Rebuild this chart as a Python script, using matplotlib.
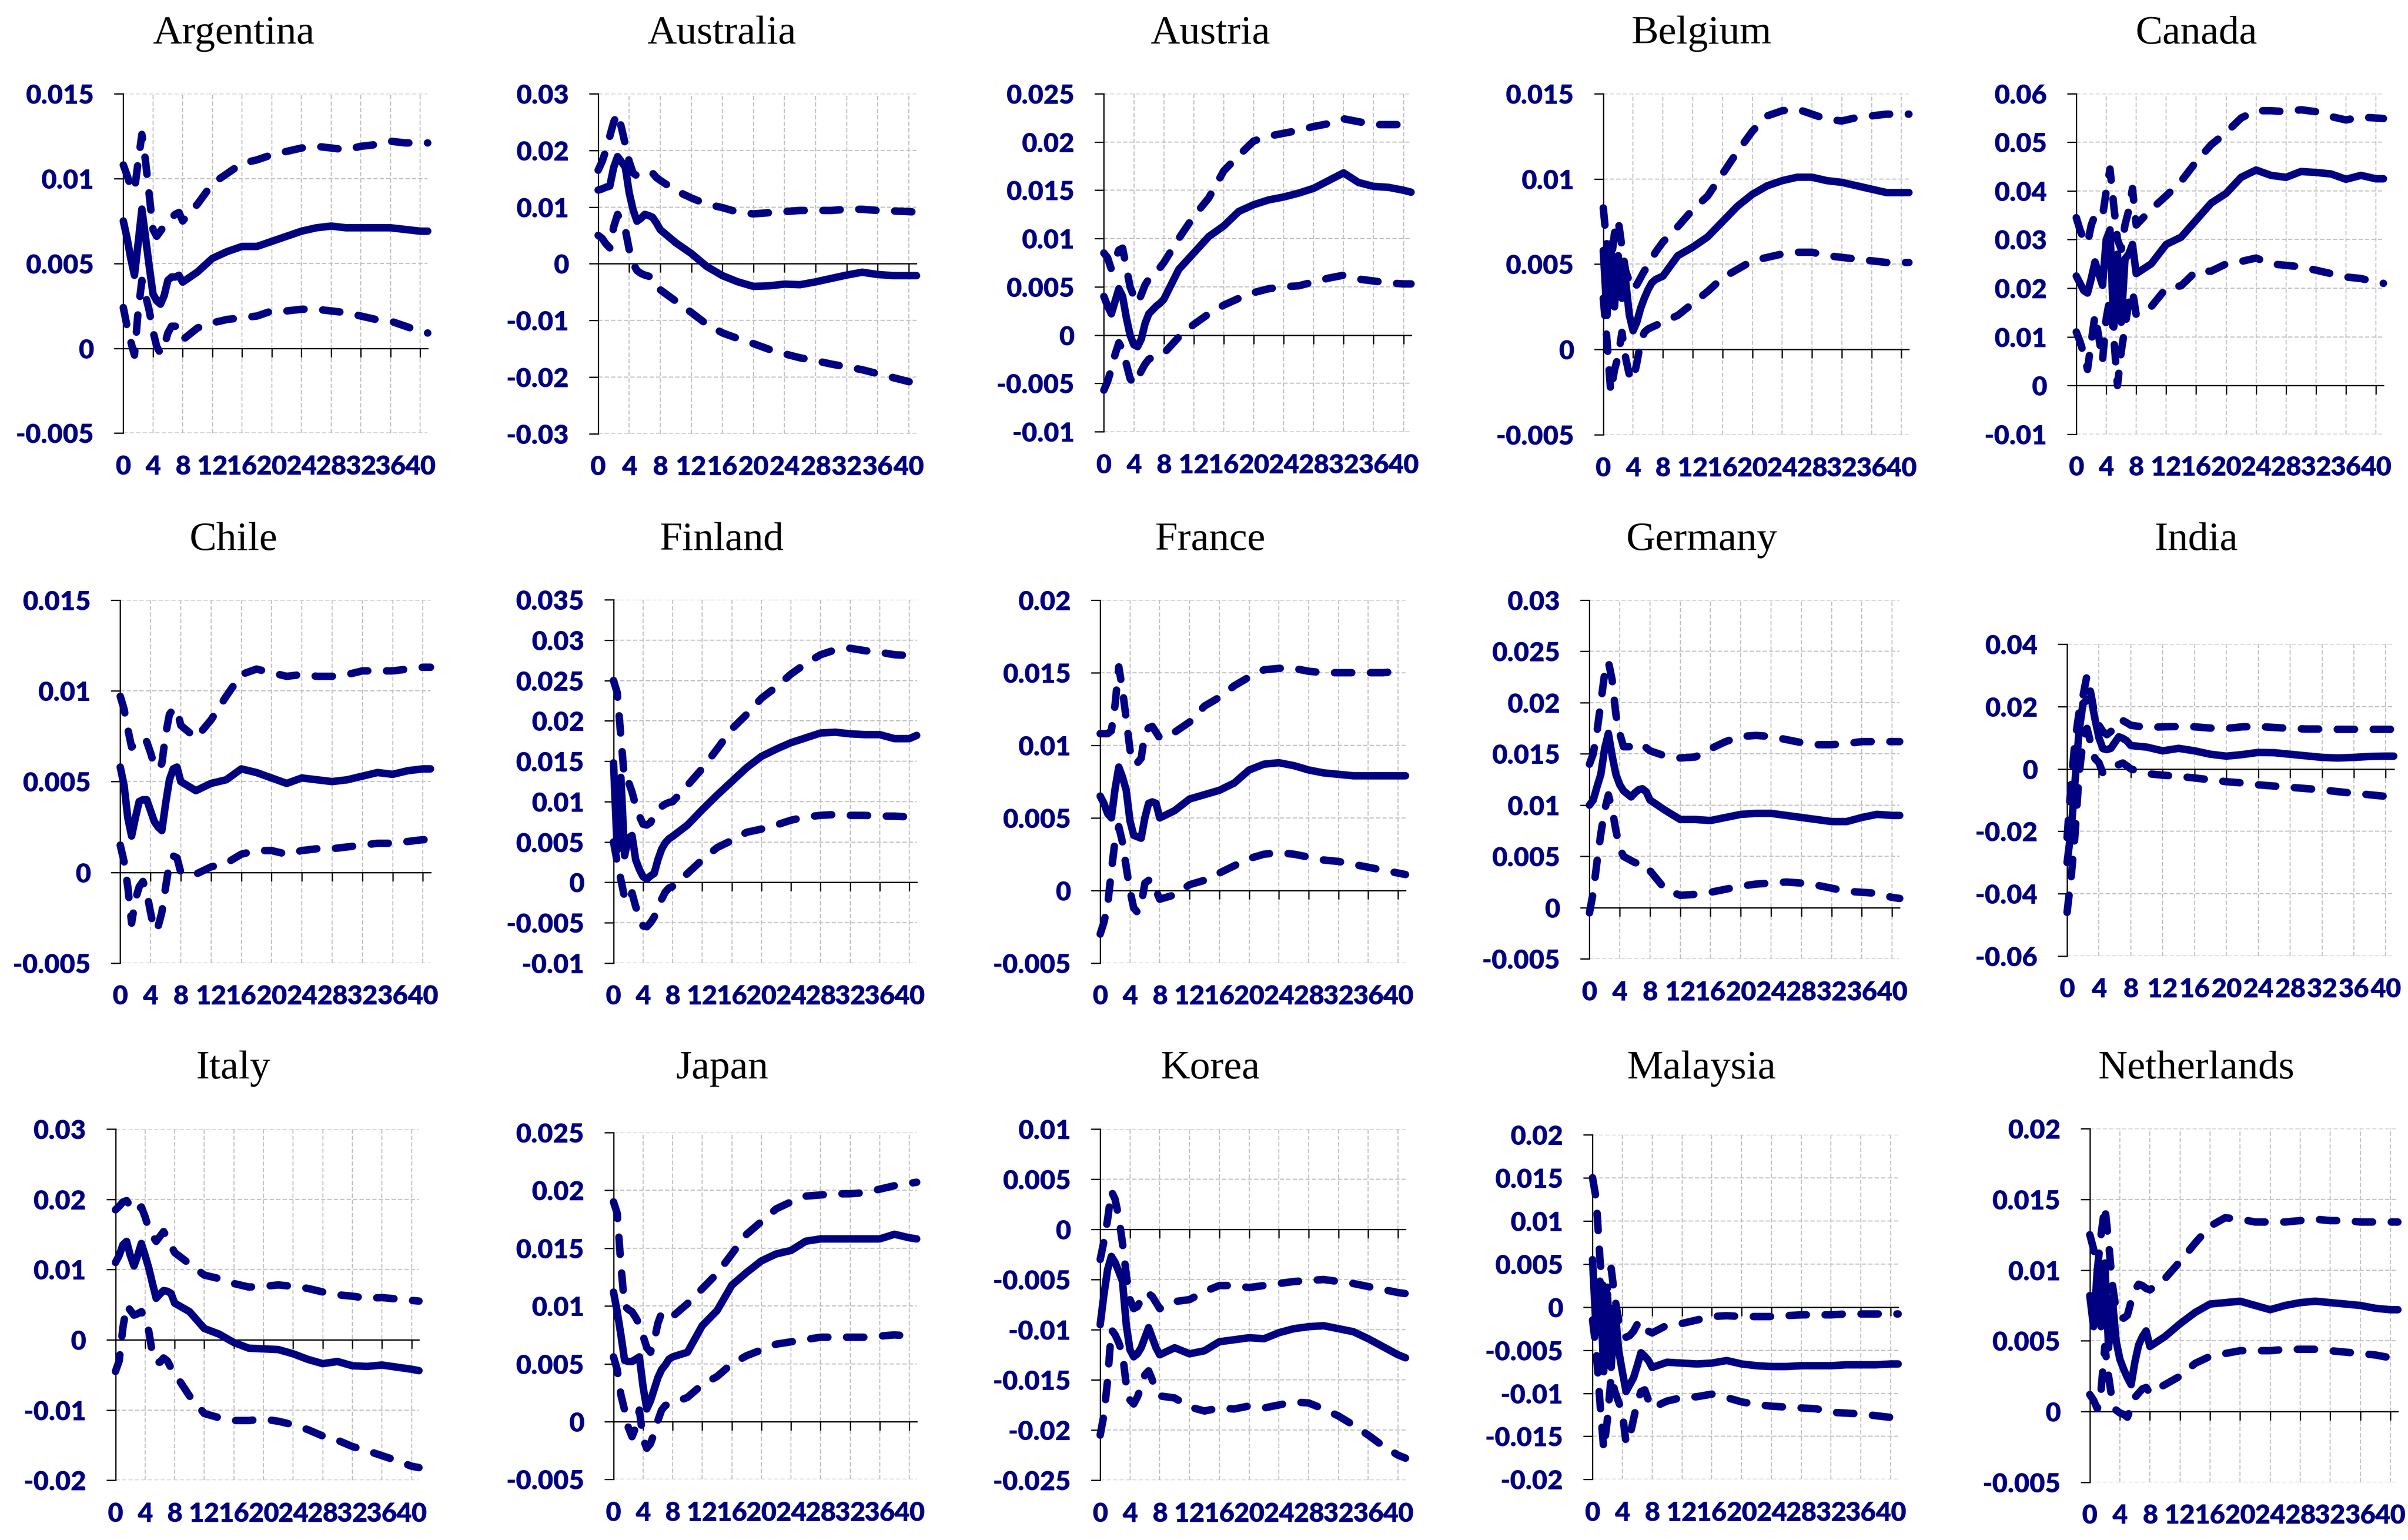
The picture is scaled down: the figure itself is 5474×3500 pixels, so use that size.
import numpy as np
import matplotlib
matplotlib.use('Agg')
import matplotlib.pyplot as plt

# horizon after the shock (finer steps at the start, where the responses wiggle)
horizon = [0, 0.5, 1, 1.5, 2, 2.5, 3, 3.5, 4, 4.5, 5, 5.5, 6, 6.5, 7, 7.5, 8,
           10, 12, 14, 16, 18, 20, 22, 24, 26, 28, 30, 32, 34, 36, 38, 40, 41]

countries = ['Argentina', 'Australia', 'Austria', 'Belgium', 'Canada',
             'Chile', 'Finland', 'France', 'Germany', 'India',
             'Italy', 'Japan', 'Korea', 'Malaysia', 'Netherlands']

arg_mid = [0.0075, 0.0065, 0.0053, 0.0043, 0.0062, 0.0082, 0.0065, 0.0048, 0.0032, 0.0028, 0.0026, 0.0031, 0.0040, 0.0042, 0.0042, 0.0043, 0.0039,
           0.0045, 0.0053, 0.0057, 0.0060, 0.0060, 0.0063, 0.0066, 0.0069, 0.0071, 0.0072, 0.0071, 0.0071, 0.0071, 0.0071, 0.0070, 0.0069, 0.0069]
arg_up = [0.0108, 0.0102, 0.0095, 0.0093, 0.0110, 0.0126, 0.0110, 0.0090, 0.0070, 0.0066, 0.0069, 0.0072, 0.0075, 0.0077, 0.0079, 0.0080, 0.0075,
          0.0085, 0.0097, 0.0103, 0.0109, 0.0111, 0.0114, 0.0116, 0.0118, 0.0119, 0.0118, 0.0117, 0.0119, 0.0120, 0.0122, 0.0121, 0.0121, 0.0121]
arg_lo = [0.0024, 0.0013, 0.0004, -0.0004, 0.0022, 0.0040, 0.0031, 0.0022, 0.0010, 0.0001, -0.0003, 0.0001, 0.0009, 0.0013, 0.0013, 0.0011, 0.0005,
          0.0012, 0.0015, 0.0017, 0.0018, 0.0019, 0.0022, 0.0022, 0.0023, 0.0023, 0.0022, 0.0021, 0.0019, 0.0017, 0.0016, 0.0013, 0.0010, 0.0009]

aus_mid = [0.0130, 0.0132, 0.0135, 0.0137, 0.0170, 0.0189, 0.0180, 0.0170, 0.0125, 0.0095, 0.0075, 0.0080, 0.0087, 0.0085, 0.0082, 0.0072, 0.0060,
           0.0037, 0.0018, -0.0005, -0.0021, -0.0032, -0.0040, -0.0039, -0.0036, -0.0037, -0.0032, -0.0026, -0.0020, -0.0015, -0.0019, -0.0021, -0.0021, -0.0021]
aus_up = [0.0165, 0.0180, 0.0200, 0.0225, 0.0250, 0.0265, 0.0240, 0.0210, 0.0180, 0.0160, 0.0155, 0.0157, 0.0160, 0.0162, 0.0160, 0.0152, 0.0147,
          0.0129, 0.0116, 0.0105, 0.0099, 0.0091, 0.0088, 0.0090, 0.0092, 0.0094, 0.0094, 0.0094, 0.0096, 0.0096, 0.0094, 0.0093, 0.0092, 0.0091]
aus_lo = [0.0050, 0.0045, 0.0035, 0.0028, 0.0065, 0.0087, 0.0075, 0.0060, 0.0025, 0.0000, -0.0012, -0.0017, -0.0020, -0.0022, -0.0024, -0.0035, -0.0046,
          -0.0066, -0.0086, -0.0107, -0.0122, -0.0132, -0.0141, -0.0151, -0.0159, -0.0166, -0.0171, -0.0177, -0.0182, -0.0187, -0.0194, -0.0201, -0.0208, -0.0210]

aut_mid = [0.0040, 0.0030, 0.0022, 0.0035, 0.0048, 0.0040, 0.0018, 0.0000, -0.0010, -0.0012, -0.0004, 0.0012, 0.0022, 0.0026, 0.0030, 0.0033, 0.0037,
           0.0068, 0.0085, 0.0102, 0.0113, 0.0128, 0.0135, 0.0140, 0.0143, 0.0147, 0.0152, 0.0160, 0.0168, 0.0158, 0.0154, 0.0153, 0.0150, 0.0148]
aut_up = [0.0085, 0.0080, 0.0068, 0.0078, 0.0088, 0.0090, 0.0070, 0.0050, 0.0040, 0.0033, 0.0042, 0.0052, 0.0058, 0.0062, 0.0066, 0.0070, 0.0075,
          0.0100, 0.0123, 0.0142, 0.0170, 0.0186, 0.0201, 0.0206, 0.0209, 0.0212, 0.0216, 0.0219, 0.0224, 0.0221, 0.0218, 0.0218, 0.0218, 0.0218]
aut_lo = [-0.0057, -0.0048, -0.0035, -0.0020, -0.0008, -0.0015, -0.0030, -0.0045, -0.0051, -0.0045, -0.0037, -0.0030, -0.0025, -0.0023, -0.0022, -0.0021, -0.0019,
          -0.0002, 0.0011, 0.0022, 0.0031, 0.0038, 0.0044, 0.0048, 0.0050, 0.0051, 0.0055, 0.0059, 0.0062, 0.0058, 0.0056, 0.0054, 0.0053, 0.0053]

bel_mid = [0.0058, 0.0020, 0.0062, 0.0025, 0.0055, 0.0030, 0.0040, 0.0020, 0.0011, 0.0016, 0.0024, 0.0030, 0.0035, 0.0039, 0.0041, 0.0042, 0.0043,
           0.0055, 0.0060, 0.0066, 0.0075, 0.0084, 0.0091, 0.0096, 0.0099, 0.0101, 0.0101, 0.0099, 0.0098, 0.0096, 0.0094, 0.0092, 0.0092, 0.0092]
bel_up = [0.0083, 0.0060, 0.0050, 0.0068, 0.0076, 0.0060, 0.0046, 0.0040, 0.0035, 0.0038, 0.0042, 0.0046, 0.0049, 0.0053, 0.0057, 0.0060, 0.0063,
          0.0072, 0.0082, 0.0090, 0.0103, 0.0116, 0.0128, 0.0137, 0.0140, 0.0141, 0.0138, 0.0135, 0.0134, 0.0136, 0.0137, 0.0138, 0.0138, 0.0138]
bel_lo = [0.0030, 0.0005, -0.0025, -0.0012, -0.0004, 0.0010, -0.0005, -0.0015, -0.0018, -0.0008, 0.0004, 0.0010, 0.0012, 0.0013, 0.0014, 0.0015, 0.0016,
          0.0020, 0.0027, 0.0034, 0.0042, 0.0047, 0.0052, 0.0054, 0.0056, 0.0057, 0.0057, 0.0055, 0.0054, 0.0053, 0.0052, 0.0051, 0.0051, 0.0051]

can_mid = [0.0225, 0.0210, 0.0195, 0.0190, 0.0220, 0.0254, 0.0230, 0.0206, 0.0300, 0.0320, 0.0120, 0.0270, 0.0130, 0.0260, 0.0270, 0.0290, 0.0230,
           0.0250, 0.0290, 0.0305, 0.0340, 0.0375, 0.0395, 0.0428, 0.0443, 0.0432, 0.0428, 0.0440, 0.0438, 0.0435, 0.0424, 0.0432, 0.0425, 0.0425]
can_up = [0.0345, 0.0320, 0.0300, 0.0292, 0.0330, 0.0350, 0.0350, 0.0347, 0.0400, 0.0445, 0.0370, 0.0300, 0.0280, 0.0330, 0.0360, 0.0405, 0.0330,
          0.0362, 0.0390, 0.0420, 0.0460, 0.0495, 0.0520, 0.0550, 0.0565, 0.0565, 0.0563, 0.0567, 0.0563, 0.0553, 0.0546, 0.0552, 0.0550, 0.0549]
can_lo = [0.0110, 0.0090, 0.0065, 0.0033, 0.0090, 0.0145, 0.0100, 0.0050, 0.0138, 0.0180, 0.0100, 0.0000, 0.0070, 0.0120, 0.0170, 0.0195, 0.0145,
          0.0162, 0.0200, 0.0205, 0.0235, 0.0235, 0.0250, 0.0255, 0.0262, 0.0250, 0.0247, 0.0244, 0.0237, 0.0230, 0.0223, 0.0220, 0.0212, 0.0210]

chl_mid = [0.0058, 0.0048, 0.0030, 0.0020, 0.0030, 0.0039, 0.0040, 0.0040, 0.0034, 0.0028, 0.0025, 0.0023, 0.0038, 0.0051, 0.0057, 0.0058, 0.0050,
           0.0045, 0.0049, 0.0051, 0.0057, 0.0055, 0.0052, 0.0049, 0.0052, 0.0051, 0.0050, 0.0051, 0.0053, 0.0055, 0.0054, 0.0056, 0.0057, 0.0057]
chl_up = [0.0097, 0.0090, 0.0079, 0.0069, 0.0071, 0.0073, 0.0074, 0.0072, 0.0066, 0.0059, 0.0057, 0.0060, 0.0076, 0.0087, 0.0090, 0.0090, 0.0081,
          0.0074, 0.0084, 0.0097, 0.0109, 0.0112, 0.0110, 0.0108, 0.0109, 0.0108, 0.0108, 0.0109, 0.0111, 0.0111, 0.0111, 0.0112, 0.0113, 0.0113]
chl_lo = [0.0015, 0.0006, -0.0008, -0.0028, -0.0015, -0.0008, -0.0005, -0.0011, -0.0022, -0.0032, -0.0030, -0.0022, -0.0008, 0.0005, 0.0009, 0.0008, 0.0000,
          -0.0001, 0.0003, 0.0005, 0.0010, 0.0012, 0.0012, 0.0010, 0.0012, 0.0013, 0.0013, 0.0014, 0.0015, 0.0016, 0.0016, 0.0017, 0.0018, 0.0018]

fin_mid = [0.0148, 0.0040, 0.0130, 0.0033, 0.0055, 0.0058, 0.0028, 0.0016, 0.0007, 0.0004, 0.0008, 0.0011, 0.0028, 0.0041, 0.0049, 0.0054, 0.0057,
           0.0071, 0.0090, 0.0108, 0.0125, 0.0142, 0.0156, 0.0165, 0.0173, 0.0179, 0.0185, 0.0186, 0.0184, 0.0183, 0.0183, 0.0178, 0.0178, 0.0182]
fin_up = [0.0250, 0.0235, 0.0180, 0.0125, 0.0125, 0.0112, 0.0095, 0.0082, 0.0072, 0.0071, 0.0074, 0.0082, 0.0090, 0.0094, 0.0097, 0.0099, 0.0100,
          0.0120, 0.0141, 0.0165, 0.0190, 0.0208, 0.0228, 0.0242, 0.0258, 0.0271, 0.0282, 0.0288, 0.0290, 0.0287, 0.0285, 0.0282, 0.0281, 0.0282]
fin_lo = [0.0050, 0.0025, 0.0003, -0.0019, -0.0025, -0.0013, -0.0030, -0.0043, -0.0054, -0.0055, -0.0050, -0.0043, -0.0031, -0.0021, -0.0012, -0.0007, -0.0005,
          0.0011, 0.0028, 0.0043, 0.0052, 0.0062, 0.0066, 0.0071, 0.0077, 0.0081, 0.0083, 0.0084, 0.0083, 0.0083, 0.0082, 0.0082, 0.0081, 0.0081]

fra_mid = [0.0065, 0.0060, 0.0053, 0.0050, 0.0070, 0.0085, 0.0078, 0.0069, 0.0048, 0.0038, 0.0037, 0.0036, 0.0050, 0.0060, 0.0061, 0.0060, 0.0050,
           0.0055, 0.0063, 0.0066, 0.0069, 0.0074, 0.0083, 0.0087, 0.0088, 0.0086, 0.0083, 0.0081, 0.0080, 0.0079, 0.0079, 0.0079, 0.0079, 0.0079]
fra_up = [0.0108, 0.0108, 0.0108, 0.0110, 0.0128, 0.0154, 0.0138, 0.0118, 0.0097, 0.0087, 0.0088, 0.0091, 0.0108, 0.0112, 0.0113, 0.0109, 0.0105,
          0.0109, 0.0116, 0.0127, 0.0133, 0.0141, 0.0147, 0.0152, 0.0153, 0.0153, 0.0151, 0.0150, 0.0150, 0.0150, 0.0150, 0.0150, 0.0151, 0.0151]
fra_lo = [-0.0030, -0.0022, -0.0010, 0.0013, 0.0035, 0.0044, 0.0033, 0.0016, 0.0000, -0.0012, -0.0015, -0.0010, 0.0005, 0.0007, 0.0007, 0.0000, -0.0006,
          -0.0003, 0.0004, 0.0007, 0.0012, 0.0017, 0.0022, 0.0025, 0.0026, 0.0025, 0.0023, 0.0021, 0.0020, 0.0018, 0.0016, 0.0014, 0.0012, 0.0011]

deu_mid = [0.0100, 0.0105, 0.0118, 0.0130, 0.0155, 0.0170, 0.0148, 0.0130, 0.0120, 0.0114, 0.0111, 0.0108, 0.0112, 0.0115, 0.0116, 0.0113, 0.0105,
           0.0095, 0.0086, 0.0086, 0.0085, 0.0088, 0.0091, 0.0092, 0.0092, 0.0090, 0.0088, 0.0086, 0.0084, 0.0084, 0.0088, 0.0091, 0.0090, 0.0090]
deu_up = [0.0140, 0.0150, 0.0172, 0.0200, 0.0228, 0.0240, 0.0222, 0.0188, 0.0170, 0.0157, 0.0157, 0.0157, 0.0158, 0.0160, 0.0159, 0.0156, 0.0153,
          0.0148, 0.0146, 0.0147, 0.0155, 0.0162, 0.0167, 0.0168, 0.0167, 0.0164, 0.0161, 0.0159, 0.0159, 0.0160, 0.0162, 0.0162, 0.0162, 0.0162]
deu_lo = [-0.0005, 0.0015, 0.0045, 0.0072, 0.0095, 0.0110, 0.0096, 0.0075, 0.0058, 0.0050, 0.0048, 0.0046, 0.0044, 0.0043, 0.0044, 0.0040, 0.0036,
          0.0018, 0.0012, 0.0013, 0.0015, 0.0018, 0.0021, 0.0023, 0.0024, 0.0025, 0.0024, 0.0022, 0.0019, 0.0016, 0.0015, 0.0014, 0.0010, 0.0009]

ind_mid = [-0.0300, -0.0200, -0.0040, 0.0120, 0.0210, 0.0220, 0.0230, 0.0160, 0.0100, 0.0065, 0.0062, 0.0066, 0.0085, 0.0103, 0.0098, 0.0090, 0.0075,
           0.0070, 0.0058, 0.0066, 0.0058, 0.0047, 0.0041, 0.0046, 0.0053, 0.0052, 0.0047, 0.0042, 0.0037, 0.0035, 0.0037, 0.0040, 0.0041, 0.0041]
ind_up = [-0.0220, -0.0050, 0.0090, 0.0180, 0.0234, 0.0300, 0.0240, 0.0170, 0.0140, 0.0120, 0.0110, 0.0120, 0.0140, 0.0158, 0.0155, 0.0148, 0.0140,
          0.0133, 0.0135, 0.0136, 0.0135, 0.0131, 0.0130, 0.0135, 0.0136, 0.0133, 0.0130, 0.0128, 0.0128, 0.0127, 0.0127, 0.0127, 0.0127, 0.0127]
ind_lo = [-0.0460, -0.0350, -0.0210, -0.0020, 0.0090, 0.0130, 0.0080, 0.0033, 0.0020, -0.0014, -0.0008, 0.0002, 0.0010, 0.0014, 0.0019, 0.0010, 0.0000,
          -0.0015, -0.0020, -0.0024, -0.0029, -0.0035, -0.0041, -0.0045, -0.0051, -0.0055, -0.0059, -0.0063, -0.0067, -0.0073, -0.0078, -0.0083, -0.0088, -0.0090]

ita_mid = [0.0110, 0.0120, 0.0135, 0.0140, 0.0120, 0.0105, 0.0120, 0.0137, 0.0120, 0.0102, 0.0080, 0.0059, 0.0065, 0.0070, 0.0069, 0.0066, 0.0052,
           0.0040, 0.0016, 0.0008, -0.0004, -0.0012, -0.0013, -0.0014, -0.0020, -0.0028, -0.0034, -0.0031, -0.0037, -0.0038, -0.0036, -0.0039, -0.0042, -0.0044]
ita_up = [0.0185, 0.0190, 0.0196, 0.0198, 0.0190, 0.0182, 0.0185, 0.0189, 0.0175, 0.0158, 0.0148, 0.0140, 0.0147, 0.0154, 0.0145, 0.0134, 0.0124,
          0.0108, 0.0092, 0.0087, 0.0080, 0.0075, 0.0076, 0.0078, 0.0076, 0.0073, 0.0068, 0.0064, 0.0062, 0.0059, 0.0060, 0.0058, 0.0056, 0.0055]
ita_lo = [-0.0045, -0.0030, 0.0017, 0.0049, 0.0042, 0.0035, 0.0037, 0.0040, 0.0030, 0.0012, -0.0020, -0.0032, -0.0032, -0.0026, -0.0030, -0.0040, -0.0048,
          -0.0080, -0.0105, -0.0111, -0.0115, -0.0115, -0.0113, -0.0116, -0.0121, -0.0128, -0.0137, -0.0143, -0.0152, -0.0158, -0.0165, -0.0172, -0.0180, -0.0182]

jpn_mid = [0.0112, 0.0095, 0.0075, 0.0053, 0.0052, 0.0052, 0.0054, 0.0056, 0.0030, 0.0011, 0.0018, 0.0028, 0.0038, 0.0045, 0.0049, 0.0054, 0.0056,
           0.0060, 0.0083, 0.0096, 0.0118, 0.0129, 0.0139, 0.0145, 0.0148, 0.0156, 0.0158, 0.0158, 0.0158, 0.0158, 0.0158, 0.0162, 0.0159, 0.0158]
jpn_up = [0.0190, 0.0180, 0.0135, 0.0100, 0.0097, 0.0095, 0.0090, 0.0084, 0.0074, 0.0064, 0.0060, 0.0070, 0.0085, 0.0094, 0.0094, 0.0094, 0.0091,
          0.0102, 0.0115, 0.0128, 0.0145, 0.0162, 0.0173, 0.0184, 0.0190, 0.0195, 0.0196, 0.0197, 0.0197, 0.0198, 0.0201, 0.0204, 0.0206, 0.0207]
jpn_lo = [0.0056, 0.0045, 0.0023, 0.0010, -0.0005, -0.0013, -0.0005, 0.0010, -0.0015, -0.0023, -0.0019, -0.0010, 0.0001, 0.0010, 0.0014, 0.0015, 0.0016,
          0.0021, 0.0032, 0.0039, 0.0050, 0.0057, 0.0062, 0.0067, 0.0069, 0.0071, 0.0073, 0.0073, 0.0073, 0.0073, 0.0074, 0.0075, 0.0074, 0.0074]

kor_mid = [-0.0095, -0.0065, -0.0040, -0.0027, -0.0033, -0.0042, -0.0052, -0.0095, -0.0120, -0.0127, -0.0124, -0.0118, -0.0108, -0.0098, -0.0108, -0.0118, -0.0125,
           -0.0118, -0.0124, -0.0121, -0.0112, -0.0110, -0.0108, -0.0109, -0.0103, -0.0099, -0.0097, -0.0096, -0.0099, -0.0102, -0.0109, -0.0117, -0.0125, -0.0128]
kor_up = [-0.0030, -0.0012, 0.0010, 0.0038, 0.0030, 0.0012, -0.0014, -0.0045, -0.0070, -0.0079, -0.0077, -0.0070, -0.0063, -0.0064, -0.0067, -0.0073, -0.0079,
          -0.0072, -0.0070, -0.0062, -0.0056, -0.0056, -0.0058, -0.0056, -0.0054, -0.0052, -0.0051, -0.0050, -0.0052, -0.0054, -0.0057, -0.0060, -0.0063, -0.0064]
kor_lo = [-0.0205, -0.0185, -0.0150, -0.0100, -0.0105, -0.0113, -0.0124, -0.0155, -0.0170, -0.0174, -0.0167, -0.0157, -0.0145, -0.0141, -0.0150, -0.0160, -0.0166,
          -0.0168, -0.0177, -0.0181, -0.0178, -0.0179, -0.0176, -0.0178, -0.0175, -0.0172, -0.0173, -0.0179, -0.0186, -0.0195, -0.0205, -0.0216, -0.0225, -0.0228]

mys_mid = [0.0055, -0.0030, 0.0030, -0.0075, 0.0015, -0.0070, 0.0000, -0.0050, -0.0075, -0.0098, -0.0090, -0.0082, -0.0068, -0.0053, -0.0057, -0.0062, -0.0070,
           -0.0064, -0.0065, -0.0066, -0.0065, -0.0062, -0.0066, -0.0068, -0.0069, -0.0069, -0.0068, -0.0068, -0.0068, -0.0067, -0.0067, -0.0067, -0.0066, -0.0066]
mys_up = [0.0150, 0.0125, 0.0055, 0.0015, 0.0022, 0.0045, 0.0010, -0.0015, -0.0030, -0.0035, -0.0033, -0.0028, -0.0020, -0.0016, -0.0023, -0.0028, -0.0030,
          -0.0021, -0.0019, -0.0015, -0.0011, -0.0010, -0.0011, -0.0011, -0.0011, -0.0010, -0.0009, -0.0009, -0.0009, -0.0008, -0.0008, -0.0008, -0.0008, -0.0008]
mys_lo = [-0.0015, -0.0050, -0.0111, -0.0165, -0.0130, -0.0080, -0.0098, -0.0110, -0.0122, -0.0158, -0.0150, -0.0130, -0.0110, -0.0098, -0.0096, -0.0108, -0.0117,
          -0.0109, -0.0105, -0.0104, -0.0101, -0.0105, -0.0110, -0.0113, -0.0115, -0.0116, -0.0117, -0.0118, -0.0122, -0.0123, -0.0124, -0.0126, -0.0128, -0.0129]

nld_mid = [0.0082, 0.0060, 0.0100, 0.0060, 0.0105, 0.0045, 0.0080, 0.0050, 0.0037, 0.0030, 0.0024, 0.0019, 0.0035, 0.0047, 0.0053, 0.0057, 0.0046,
           0.0053, 0.0062, 0.0070, 0.0076, 0.0077, 0.0078, 0.0075, 0.0072, 0.0075, 0.0077, 0.0078, 0.0077, 0.0076, 0.0075, 0.0073, 0.0072, 0.0072]
nld_up = [0.0125, 0.0115, 0.0100, 0.0125, 0.0145, 0.0120, 0.0090, 0.0072, 0.0067, 0.0066, 0.0068, 0.0078, 0.0086, 0.0090, 0.0089, 0.0087, 0.0086,
          0.0094, 0.0106, 0.0119, 0.0131, 0.0137, 0.0136, 0.0134, 0.0134, 0.0134, 0.0135, 0.0136, 0.0135, 0.0135, 0.0134, 0.0134, 0.0134, 0.0134]
nld_lo = [0.0012, 0.0008, 0.0002, 0.0015, 0.0046, 0.0025, 0.0007, 0.0001, -0.0001, -0.0002, -0.0004, 0.0003, 0.0010, 0.0013, 0.0016, 0.0017, 0.0013,
          0.0019, 0.0025, 0.0034, 0.0039, 0.0041, 0.0043, 0.0043, 0.0043, 0.0044, 0.0044, 0.0044, 0.0043, 0.0042, 0.0041, 0.0040, 0.0038, 0.0037]

# value axis of each panel
y_min = [-0.005, -0.03, -0.01, -0.005, -0.01, -0.005, -0.01, -0.005, -0.005, -0.06, -0.02, -0.005, -0.025, -0.02, -0.005]
y_max = [0.015, 0.03, 0.025, 0.015, 0.06, 0.015, 0.035, 0.02, 0.03, 0.04, 0.03, 0.025, 0.01, 0.02, 0.02]
y_step = [0.005, 0.01, 0.005, 0.005, 0.01, 0.005, 0.005, 0.005, 0.005, 0.02, 0.01, 0.005, 0.005, 0.005, 0.005]

series = [(arg_mid, arg_up, arg_lo), (aus_mid, aus_up, aus_lo), (aut_mid, aut_up, aut_lo),
          (bel_mid, bel_up, bel_lo), (can_mid, can_up, can_lo), (chl_mid, chl_up, chl_lo),
          (fin_mid, fin_up, fin_lo), (fra_mid, fra_up, fra_lo), (deu_mid, deu_up, deu_lo),
          (ind_mid, ind_up, ind_lo), (ita_mid, ita_up, ita_lo), (jpn_mid, jpn_up, jpn_lo),
          (kor_mid, kor_up, kor_lo), (mys_mid, mys_up, mys_lo), (nld_mid, nld_up, nld_lo)]

# layout: plot boxes (left, right, top, bottom) on a 1568 x 1002.6 canvas
W, H = 1568.0, 1002.6
boxes = [(80.3, 278.5, 61, 282), (389.5, 596.8, 61, 282.4), (718.8, 918.8, 61, 281),
         (1044, 1243, 61, 283), (1352, 1552, 61, 282.6),
         (78.3, 280.3, 390.7, 627), (399.5, 596.9, 390.5, 627), (716.4, 915.2, 390.7, 627),
         (1035, 1237, 390.7, 624.3), (1346, 1558.7, 419.4, 622.4),
         (75.2, 272.8, 735, 963.7), (399.5, 596.9, 737.3, 963.2), (716.4, 915.2, 735, 963.7),
         (1037, 1236, 738.7, 963.2), (1360.8, 1561.4, 734.8, 965)]
title_x = [152, 470, 788, 1108, 1430]
title_base = [28.4, 358, 702]

NAVY = '#000080'
LW = 3.5
tick_font = dict(fontsize=12.5, fontweight='heavy', color=NAVY, fontfamily='Lato')

fig = plt.figure(figsize=(15.64, 10.0), dpi=350, facecolor='w')

for i, name in enumerate(countries):
    l, r, t, b = boxes[i]
    ax = fig.add_axes([l / W, 1 - b / H, (r - l) / W, (b - t) / H])
    mid, up, lo = series[i]

    ax.plot(horizon, mid, color=NAVY, lw=LW, solid_capstyle='round',
            solid_joinstyle='round', clip_on=False, zorder=3)
    for band in (up, lo):
        ax.plot(horizon, band, color=NAVY, lw=LW, ls=(0, (2.3, 2.5)),
                dash_capstyle='round', dash_joinstyle='round', clip_on=False, zorder=3)

    ax.set_xlim(0, 41)
    ax.set_ylim(y_min[i], y_max[i])
    n = int(round((y_max[i] - y_min[i]) / y_step[i]))
    yt = np.linspace(y_min[i], y_max[i], n + 1)
    ax.set_yticks(yt, labels=['%g' % (round(v, 4) + 0.0) for v in yt], **tick_font)
    xt = list(range(0, 41, 4))
    ax.set_xticks(xt)

    for s in ('top', 'right'):
        ax.spines[s].set_visible(False)
    ax.spines['bottom'].set_position(('data', 0))
    for s in ('left', 'bottom'):
        ax.spines[s].set_linewidth(0.6)
        ax.spines[s].set_color('black')
    ax.tick_params(axis='x', direction='out', length=4.1, width=0.6, labelbottom=False)
    ax.tick_params(axis='y', direction='out', length=4.3, width=0.6, pad=9.3)

    ax.grid(True, color='#c0c0c0', lw=0.5, ls=(0, (4, 2)))
    ax.set_axisbelow(True)

    # category labels sit at the bottom of the plot, not at the zero line
    lab = ax.secondary_xaxis('bottom')
    lab.set_xticks(xt, labels=[str(v) for v in xt], **tick_font)
    lab.tick_params(length=0, pad=10)
    lab.spines['bottom'].set_visible(False)

    fig.text(title_x[i % 5] / W, 1 - title_base[i // 5] / H, name, ha='center',
             va='baseline', fontsize=19, fontfamily='Liberation Serif', color='black')

plt.savefig('out.png', dpi=350, facecolor='w')
